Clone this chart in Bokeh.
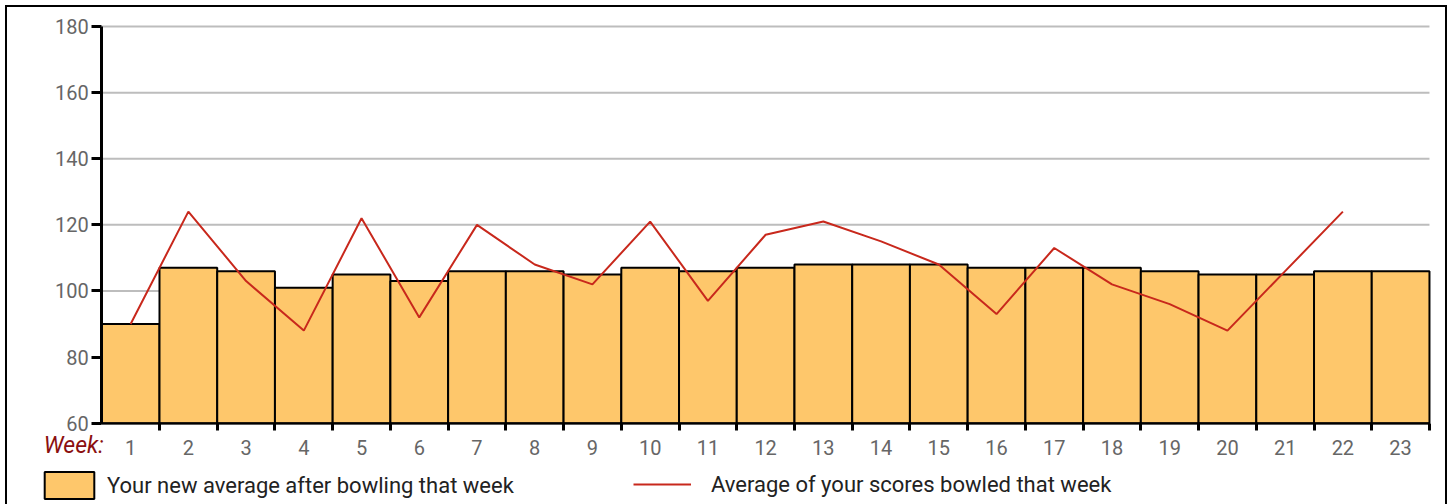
from bokeh.plotting import figure
from bokeh.models import (ColumnDataSource, FixedTicker, Legend, LegendItem, Label, Range1d)
from bokeh.embed import file_html
from bokeh.resources import INLINE

weeks = list(range(1, 24))
week_labels = [str(w) for w in weeks]
new_average = [90, 107, 106, 101, 105, 103, 106, 106, 105, 107, 106, 107,
               108, 108, 108, 107, 107, 107, 106, 105, 105, 106, 106]
line_weeks = list(range(1, 23))
week_average = [90, 124, 103, 88, 122, 92, 120, 108, 102, 121, 97, 117,
                121, 115, 108, 93, 113, 102, 96, 88, 106, 124]
y_ticks = [60, 80, 100, 120, 140, 160, 180]

FONT = "Roboto"
X0, X1 = 0.5, 23.5
Y0, Y1 = 60, 180

p = figure(width=1442, height=499, output_backend="svg", toolbar_location=None,
           x_range=Range1d(-1.133, 23.847), y_range=Range1d(34.78, 185.77),
           min_border_left=0, min_border_right=0, min_border_top=0,
           min_border_bottom=0)
p.styles = {"margin-left": "5px", "margin-top": "5px",
            "border-top": "2px solid black", "border-left": "2px solid black",
            "border-right": "2px solid black"}
p.outline_line_color = None
p.background_fill_color = "white"
p.xgrid.visible = False
p.ygrid.visible = False

# horizontal grid lines at the y ticks, across the bar area
gsrc = ColumnDataSource(dict(y=y_ticks, x0=[X0] * len(y_ticks), x1=[X1] * len(y_ticks)))
p.segment(x0="x0", y0="y", x1="x1", y1="y", source=gsrc, line_color="#BDBDBD", line_width=2)

src = ColumnDataSource(dict(x=weeks, top=new_average))
bars = p.vbar(x="x", top="top", bottom=Y0, width=1.0, source=src,
              fill_color="#FEC76B", line_color="black", line_width=2)
lsrc = ColumnDataSource(dict(x=line_weeks, y=week_average))
line = p.line("x", "y", source=lsrc, line_color="#C8281C", line_width=2)

# y axis
ya = p.yaxis[0]
ya.fixed_location = X0
ya.bounds = (Y0, Y1)
ya.ticker = FixedTicker(ticks=y_ticks)
ya.axis_line_width = 3
ya.axis_line_color = "black"
ya.major_tick_in = 0
ya.major_tick_out = 10
ya.major_tick_line_width = 3
ya.minor_tick_line_color = None
ya.major_label_text_font = FONT
ya.major_label_text_font_size = "20px"
ya.major_label_text_color = "#666666"
ya.major_label_standoff = 3

# x axis
xa = p.xaxis[0]
xa.fixed_location = Y0
xa.bounds = (X0, X1)
xa.ticker = FixedTicker(ticks=weeks, minor_ticks=[w + 0.5 for w in weeks])
xa.major_label_overrides = {w: l for w, l in zip(weeks, week_labels)}
xa.axis_line_width = 2
xa.axis_line_color = "black"
xa.major_tick_line_color = None
xa.major_tick_in = 0
xa.major_tick_out = 0
xa.minor_tick_in = 0
xa.minor_tick_out = 7
xa.minor_tick_line_width = 3
xa.minor_tick_line_color = "black"
xa.major_label_text_font = FONT
xa.major_label_text_font_size = "20px"
xa.major_label_text_color = "#666666"
xa.major_label_standoff = 10

wk = Label(x=0.535, y=53.3, text="Week:", text_align="right", text_baseline="middle",
           text_font=FONT, text_font_size="23px", text_font_style="italic",
           text_color="#8B1010")
p.add_layout(wk)

leg1 = Legend(items=[LegendItem(label="Your new average after bowling that week", renderers=[bars])],
              location=(31, 4), glyph_width=62, glyph_height=34, label_standoff=7,
              padding=0, margin=0, border_line_color=None, background_fill_alpha=0,
              label_text_font=FONT, label_text_font_size="22px", label_text_color="#222222")
leg2 = Legend(items=[LegendItem(label="Average of your scores bowled that week", renderers=[line])],
              location=(626, 8), glyph_width=58, glyph_height=28, label_standoff=20,
              padding=0, margin=0, border_line_color=None, background_fill_alpha=0,
              label_text_font=FONT, label_text_font_size="22px", label_text_color="#222222")
p.add_layout(leg1)
p.add_layout(leg2)

open("out.html", "w").write(file_html(p, INLINE))
